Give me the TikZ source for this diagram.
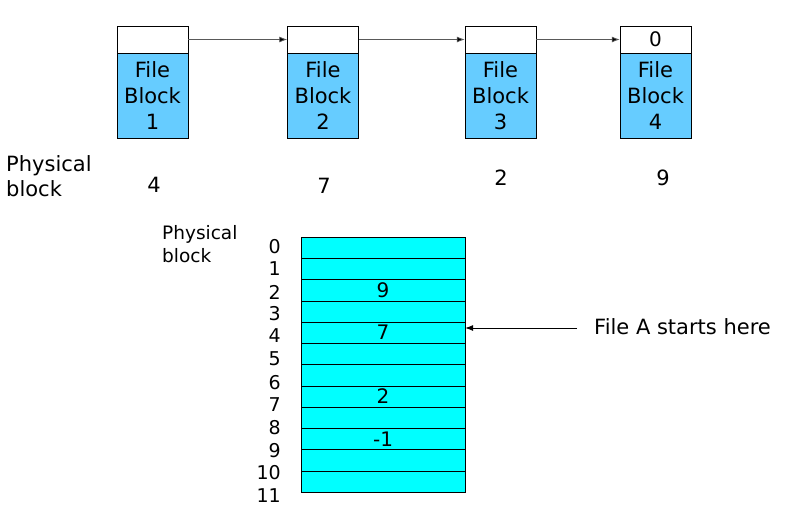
\documentclass[tikz,border=0pt]{standalone}
\usepackage{fontspec}
\setmainfont{DejaVu Sans}
\usetikzlibrary{arrows.meta}
\definecolor{fblue}{HTML}{66CCFF}
\definecolor{tcyan}{HTML}{00FFFF}
\begin{document}
\begin{tikzpicture}[x=1pt,y=-1pt,
  topcell/.style={draw=black,fill=white,minimum width=71pt,minimum height=27pt,inner sep=0pt,font=\fontsize{20}{22}\selectfont},
  bluecell/.style={draw=black,fill=fblue,minimum width=71pt,minimum height=85pt,inner sep=0pt,align=center,font=\fontsize{21}{26}\selectfont},
  rowcell/.style={draw=black,fill=tcyan,minimum width=164pt,minimum height=21.25pt,inner sep=0pt,font=\fontsize{20}{22}\selectfont},
  numlbl/.style={anchor=east,inner sep=0pt,font=\fontsize{19}{22}\selectfont},
  bigtxt/.style={inner sep=0pt,font=\fontsize{21}{25}\selectfont},
  arr/.style={draw=black!65,line width=0.8pt,-{Latex[length=8pt,width=6pt,fill=black]}}]
\useasboundingbox (0,0) rectangle (807,512);
% top blocks
\node[topcell] (t1) at (152.5,39.5) {};
\node[bluecell] (b1) at (152.5,95.5) {File\\Block\\1};
\node[topcell] (t2) at (323,39.5) {};
\node[bluecell] (b2) at (323,95.5) {File\\Block\\2};
\node[topcell] (t3) at (500.5,39.5) {};
\node[bluecell] (b3) at (500.5,95.5) {File\\Block\\3};
\node[topcell] (t4) at (655.5,39.5) {0};
\node[bluecell] (b4) at (655.5,95.5) {File\\Block\\4};
\draw[arr] (t1.east) -- (t2.west);
\draw[arr] (t2.east) -- (t3.west);
\draw[arr] (t3.east) -- (t4.west);
% physical block labels
\node[bigtxt,anchor=west,align=left] (pb1) at (6,176) {Physical\\block};
\node[bigtxt] (n1) at (154,185) {4};
\node[bigtxt] (n2) at (324,186) {7};
\node[bigtxt] (n3) at (501,178) {2};
\node[bigtxt] (n4) at (663,178) {9};
% table
\node[anchor=west,align=left,inner sep=0pt,font=\fontsize{18.5}{23}\selectfont] (pb2) at (162,244) {Physical\\block};
\foreach \i/\v in {0/,1/,2/9,3/,4/7,5/,6/,7/2,8/,9/-1,10/,11/}{
  \node[rowcell] (r\i) at (383,{237+21.25*\i+10.625}) {\v};
}
\foreach \i/\y in {0/247,1/269,2/292,3/314,4/336,5/359,6/383,7/405,8/428,9/451,10/473,11/496}{
  \node[numlbl] (l\i) at (281,\y) {\i};
}
\node[bigtxt,anchor=west] (fa) at (594,327) {File A starts here};
\coordinate (fs) at (577,328);
\draw[line width=0.8pt,-{Latex[length=8pt,width=6pt]}] (fs) -- (r4.east |- fs);
\end{tikzpicture}
\end{document}
